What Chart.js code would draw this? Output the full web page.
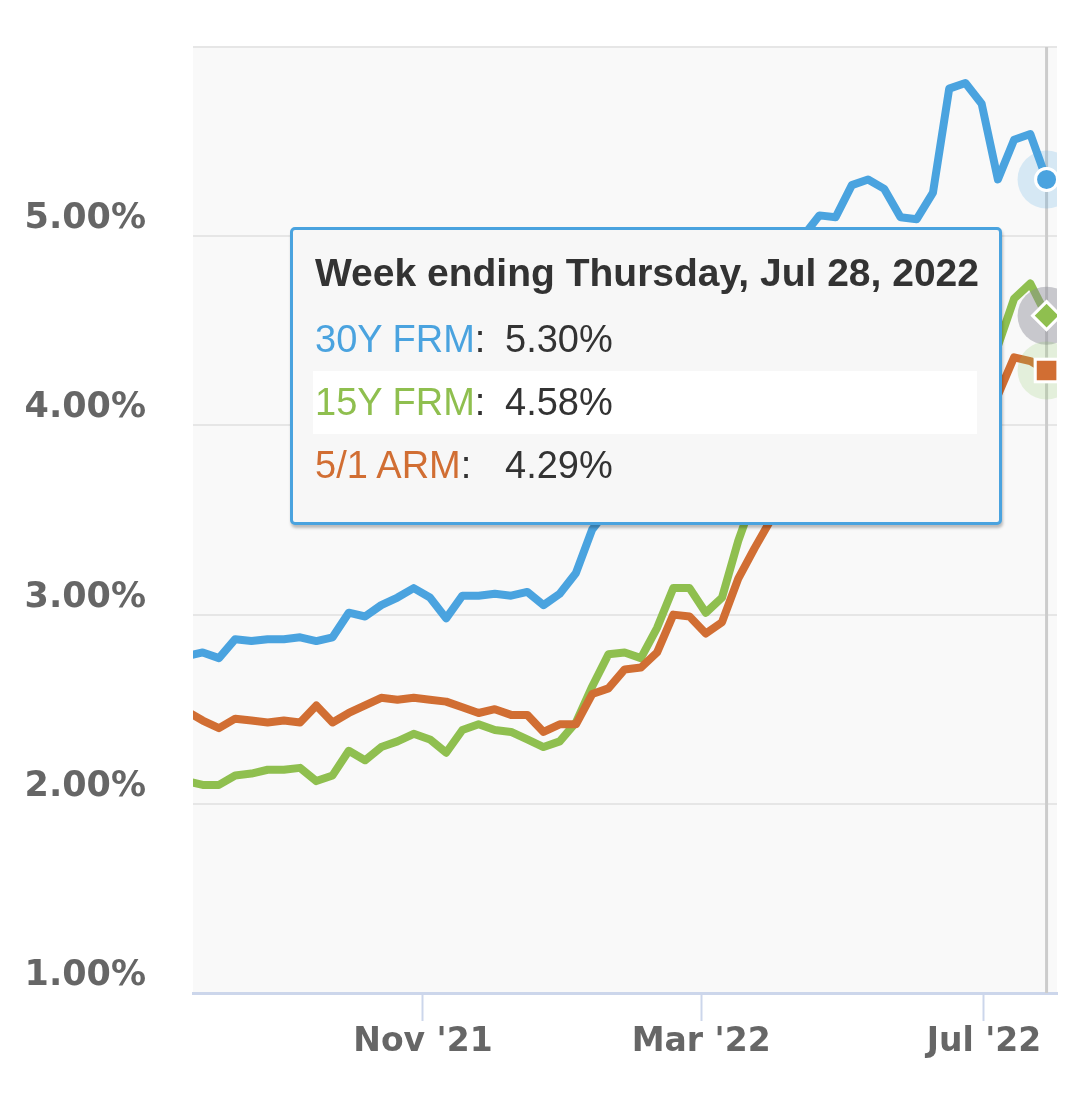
<!DOCTYPE html>
<html>
<head>
<meta charset="utf-8">
<title>Mortgage rates</title>
<script src="https://cdn.jsdelivr.net/npm/chart.js@4.4.0/dist/chart.umd.min.js"></script>
<style>
  html, body { margin: 0; padding: 0; background: #ffffff; }
  #wrap { position: relative; width: 1089px; height: 1111px; }
  #rateChart { display: block; }
  #tip {
    position: absolute; display: none; box-sizing: border-box;
    left: 290px; top: 227px; width: 712px; height: 298px;
    padding: 18px 22px 0 22px;
    border: 3px solid #4aa3df; border-radius: 5px;
    background: #f7f7f7;
    box-shadow: 1px 3px 3px rgba(0, 0, 0, 0.25);
    font-family: "Liberation Sans", Arial, Helvetica, sans-serif;
    color: #333333;
  }
  #tip .tt-title { font-size: 39px; font-weight: bold; line-height: 50px; white-space: nowrap; }
  #tip table { border-collapse: collapse; margin: 10px 0 0 -2px; width: 664px; }
  #tip td { font-size: 38px; line-height: 63px; height: 63px; padding: 0; white-space: nowrap; }
  #tip td.lab { width: 190px; padding-left: 2px; }
  #tip tr.hl td { background: #ffffff; }
</style>
</head>
<body>
<div id="wrap">
  <canvas id="rateChart" width="1089" height="1111"></canvas>
  <div id="tip"></div>
</div>
<script>
// 每週資料（週四公布）
const weekDates = [
  '2021-07-22','2021-07-29','2021-08-05','2021-08-12','2021-08-19','2021-08-26',
  '2021-09-02','2021-09-09','2021-09-16','2021-09-23','2021-09-30','2021-10-07',
  '2021-10-14','2021-10-21','2021-10-28','2021-11-04','2021-11-11','2021-11-18',
  '2021-11-25','2021-12-02','2021-12-09','2021-12-16','2021-12-23','2021-12-30',
  '2022-01-06','2022-01-13','2022-01-20','2022-01-27','2022-02-03','2022-02-10',
  '2022-02-17','2022-02-24','2022-03-03','2022-03-10','2022-03-17','2022-03-24',
  '2022-03-31','2022-04-07','2022-04-14','2022-04-21','2022-04-28','2022-05-05',
  '2022-05-12','2022-05-19','2022-05-26','2022-06-02','2022-06-09','2022-06-16',
  '2022-06-23','2022-06-30','2022-07-07','2022-07-14','2022-07-21','2022-07-28'
];

const frm30Rates = [
  2.78, 2.80, 2.77, 2.87, 2.86, 2.87, 2.87, 2.88, 2.86, 2.88, 3.01, 2.99,
  3.05, 3.09, 3.14, 3.09, 2.98, 3.10, 3.10, 3.11, 3.10, 3.12, 3.05, 3.11,
  3.22, 3.45, 3.56, 3.55, 3.55, 3.69, 3.92, 3.89, 3.76, 3.85, 4.16, 4.42,
  4.67, 4.72, 5.00, 5.11, 5.10, 5.27, 5.30, 5.25, 5.10, 5.09, 5.23, 5.78,
  5.81, 5.70, 5.30, 5.51, 5.54, 5.30
];

const frm15Rates = [
  2.12, 2.10, 2.10, 2.15, 2.16, 2.18, 2.18, 2.19, 2.12, 2.15, 2.28, 2.23,
  2.30, 2.33, 2.37, 2.34, 2.27, 2.39, 2.42, 2.39, 2.38, 2.34, 2.30, 2.33,
  2.43, 2.62, 2.79, 2.80, 2.77, 2.93, 3.14, 3.14, 3.01, 3.09, 3.39, 3.63,
  3.83, 3.91, 4.17, 4.38, 4.40, 4.52, 4.48, 4.43, 4.31, 4.32, 4.38, 4.81,
  4.92, 4.83, 4.42, 4.67, 4.75, 4.58
];

const arm51Rates = [
  2.49, 2.44, 2.40, 2.45, 2.44, 2.43, 2.44, 2.43, 2.52, 2.43, 2.48, 2.52,
  2.56, 2.55, 2.56, 2.55, 2.54, 2.51, 2.48, 2.50, 2.47, 2.47, 2.38, 2.42,
  2.42, 2.58, 2.61, 2.71, 2.72, 2.80, 3.00, 2.99, 2.90, 2.96, 3.19, 3.35,
  3.50, 3.56, 3.69, 3.81, 3.92, 3.96, 3.98, 4.08, 4.20, 4.04, 4.19, 4.33,
  4.37, 4.50, 4.16, 4.36, 4.34, 4.29
];

const seriesNames = ['30Y FRM', '15Y FRM', '5/1 ARM'];
const xTickDates = ['2021-11-01', '2022-03-01', '2022-07-01'];
const xTickLabels = ["Nov '21", "Mar '22", "Jul '22"];

const monthNames = ['Jan','Feb','Mar','Apr','May','Jun','Jul','Aug','Sep','Oct','Nov','Dec'];
const dayNames = ['Sunday','Monday','Tuesday','Wednesday','Thursday','Friday','Saturday'];

// 日期字串 -> 天數
function dayNum(s) {
  const p = s.split('-');
  return Date.UTC(+p[0], +p[1] - 1, +p[2]) / 86400000;
}

function toPoints(values) {
  return values.map((v, i) => ({ x: dayNum(weekDates[i]), y: v }));
}

const lastIndex = weekDates.length - 1;
const seriesColors = ['#4aa3df', '#8fbf4f', '#d16e33'];
const haloColors = ['rgba(74, 163, 223, 0.2)', 'rgba(140, 140, 150, 0.45)', 'rgba(140, 200, 100, 0.2)'];
const markerStyles = ['circle', 'rectRot', 'rect'];
const markerRadius = [11, 14, 16];

const xMin = dayNum('2021-11-01') - 99.2;
const xMax = xMin + 372.7;

// 自訂 HTML tooltip
function drawTip(context) {
  const tt = context.tooltip;
  const tip = document.getElementById('tip');
  if (!tt.dataPoints || tt.dataPoints.length === 0) {
    tip.style.display = 'none';
    return;
  }
  let html = '<div class="tt-title">' + tt.title.join(' ') + '</div><table>';
  tt.dataPoints.forEach(function(dp, i) {
    html += '<tr' + (i === 1 ? ' class="hl"' : '') + '>' +
      '<td class="lab"><span style="color:' + dp.dataset.borderColor + '">' + dp.dataset.label + '</span>:</td>' +
      '<td>' + dp.parsed.y.toFixed(2) + '%</td></tr>';
  });
  html += '</table>';
  tip.innerHTML = html;
  tip.style.display = 'block';
}

// 背景、十字線、光暈
const plotDecor = {
  id: 'plotDecor',
  beforeDraw(chart) {
    const { ctx, chartArea: a } = chart;
    ctx.save();
    ctx.fillStyle = '#f9f9f9';
    ctx.fillRect(a.left, a.top, a.right - a.left, a.bottom - a.top);
    ctx.restore();
  },
  beforeDatasetsDraw(chart) {
    const { ctx, chartArea: a } = chart;
    const pt = chart.getDatasetMeta(0).data[lastIndex];
    ctx.save();
    ctx.strokeStyle = '#cccccc';
    ctx.lineWidth = 3;
    ctx.beginPath();
    ctx.moveTo(pt.x, a.top);
    ctx.lineTo(pt.x, a.bottom);
    ctx.stroke();
    ctx.restore();
  },
  afterDatasetsDraw(chart) {
    const { ctx, chartArea: a } = chart;
    ctx.save();
    ctx.beginPath();
    ctx.rect(a.left, a.top, a.right - a.left, a.bottom - a.top);
    ctx.clip();
    chart.data.datasets.forEach(function(ds, i) {
      const pt = chart.getDatasetMeta(i).data[lastIndex];
      ctx.fillStyle = haloColors[i];
      ctx.beginPath();
      ctx.arc(pt.x, pt.y, 29, 0, Math.PI * 2);
      ctx.fill();
    });
    chart.data.datasets.forEach(function(ds, i) {
      chart.getDatasetMeta(i).data[lastIndex].draw(ctx, a);
    });
    ctx.restore();
  }
};

function makeDataset(i, values) {
  return {
    label: seriesNames[i],
    data: toPoints(values),
    borderColor: seriesColors[i],
    backgroundColor: seriesColors[i],
    borderWidth: 8,
    borderJoinStyle: 'round',
    tension: 0,
    order: 3 - i,
    pointStyle: markerStyles[i],
    pointRadius: ctx => (ctx.dataIndex === lastIndex ? markerRadius[i] : 0),
    pointBackgroundColor: seriesColors[i],
    pointBorderColor: '#ffffff',
    pointBorderWidth: 3
  };
}

const rateChart = new Chart(document.getElementById('rateChart').getContext('2d'), {
  type: 'line',
  data: {
    datasets: [
      makeDataset(0, frm30Rates),
      makeDataset(1, frm15Rates),
      makeDataset(2, arm51Rates)
    ]
  },
  options: {
    responsive: false,
    animation: false,
    events: [],
    layout: { padding: { top: 47, right: 32, left: 0, bottom: 0 } },
    plugins: {
      legend: { display: false },
      tooltip: {
        enabled: false,
        external: drawTip,
        callbacks: {
          title: items => {
            const s = weekDates[items[0].dataIndex];
            const p = s.split('-');
            const d = new Date(Date.UTC(+p[0], +p[1] - 1, +p[2]));
            return 'Week ending ' + dayNames[d.getUTCDay()] + ', ' + monthNames[d.getUTCMonth()] + ' ' +
              d.getUTCDate() + ', ' + d.getUTCFullYear();
          }
        }
      }
    },
    scales: {
      x: {
        type: 'linear',
        bounds: 'data',
        min: xMin,
        max: xMax,
        afterBuildTicks: s => { s.ticks = xTickDates.map(d => ({ value: dayNum(d) })); },
        afterFit: s => { s.height = 118; s.paddingLeft = 0; s.paddingRight = 0; },
        grid: { display: true, drawOnChartArea: false, drawTicks: true, tickLength: 28, tickColor: '#ccd6eb', tickWidth: 2 },
        border: { display: true, color: '#ccd6eb', width: 3 },
        ticks: {
          autoSkip: false, maxRotation: 0, padding: 2, color: '#666666',
          font: { family: 'DejaVu Sans', size: 33, weight: 'bold' },
          callback: (v, i) => xTickLabels[i]
        }
      },
      y: {
        min: 1,
        max: 6,
        afterFit: s => { s.width = 193; s.paddingTop = 0; s.paddingBottom = 0; },
        grid: { color: '#e6e6e6', lineWidth: 2, drawTicks: false },
        border: { display: false },
        ticks: {
          stepSize: 1, padding: 47, labelOffset: -17, color: '#666666',
          font: { family: 'DejaVu Sans', size: 35, weight: 'bold' },
          callback: v => (v === 6 ? '' : v.toFixed(2) + '%')
        }
      }
    }
  },
  plugins: [plotDecor]
});

// 顯示最後一週的 tooltip
rateChart.tooltip.setActiveElements(
  [0, 1, 2].map(i => ({ datasetIndex: i, index: lastIndex })),
  { x: 0, y: 0 }
);
</script>
</body>
</html>
